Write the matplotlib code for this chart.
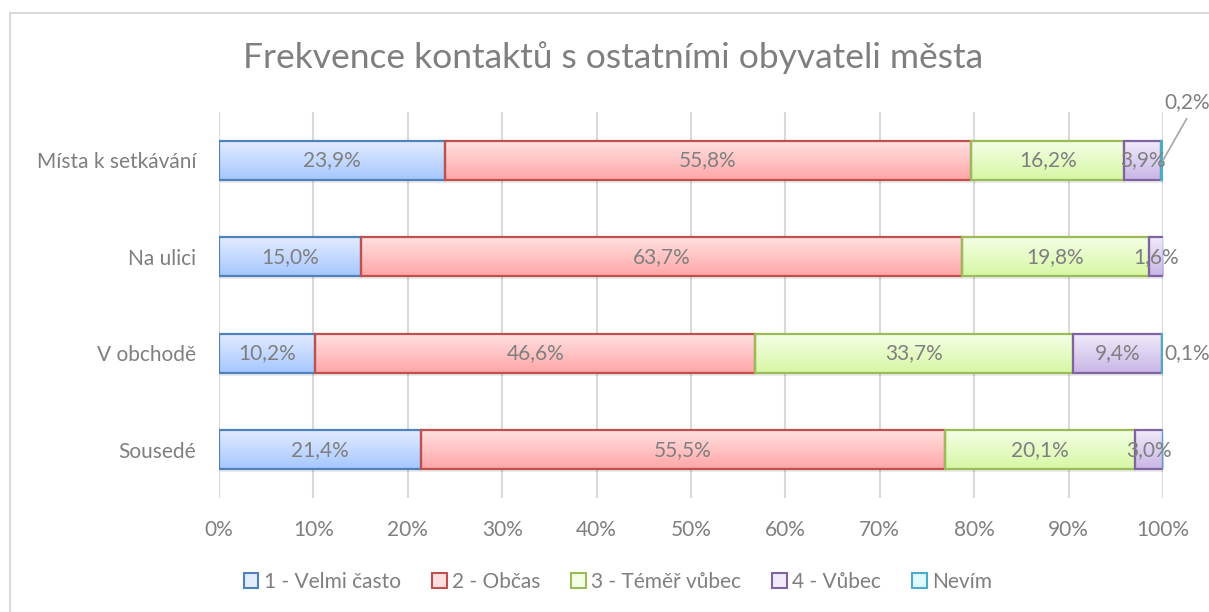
import numpy as np
import matplotlib.pyplot as plt
from matplotlib.colors import LinearSegmentedColormap
from matplotlib.patches import Patch, Rectangle

# data (percent), bottom -> top
categories = ['Sousedé', 'V obchodě', 'Na ulici', 'Místa k setkávání']
series = ['1 - Velmi často', '2 - Občas', '3 - Téměř vůbec', '4 - Vůbec', 'Nevím']
velmi_casto = [21.4, 10.2, 15.0, 23.9]
obcas = [55.5, 46.6, 63.7, 55.8]
temer_vubec = [20.1, 33.7, 19.8, 16.2]
vubec = [3.0, 9.4, 1.6, 3.9]
nevim = [0.0, 0.1, 0.0, 0.2]
values = [velmi_casto, obcas, temer_vubec, vubec, nevim]
xticks = np.arange(0, 101, 10)

# (top colour, bottom colour, edge colour)
styles = [
    ('#e2ecff', '#a6c6ff', '#4f81bd'),
    ('#ffe0e0', '#ffa6a6', '#c0504d'),
    ('#f4ffe6', '#d6f7a3', '#9bbb59'),
    ('#f0eafa', '#c8b6e6', '#8064a2'),
    ('#e0f8ff', '#9fe4f7', '#4bacc6'),
]
text_col = '#7f7f7f'
fs = 15

plt.rcParams['font.family'] = ['Lato', 'DejaVu Sans']

fig = plt.figure(figsize=(12.09, 6.12), dpi=100)
ax = fig.add_axes([219 / 1209, 1 - 498 / 612, 944 / 1209, 386 / 612])

# chart border
fig.add_artist(Rectangle((10 / 1209, -0.05), 1.2, 1 - 13 / 612 + 0.05,
                         transform=fig.transFigure, fill=False,
                         edgecolor='#d9d9d9', lw=1.5))

h = 0.4
grad = np.linspace(0, 1, 64).reshape(-1, 1)
y = np.arange(len(categories))
left = np.zeros(len(categories))
for si, vals in enumerate(values):
    top_c, bot_c, edge_c = styles[si]
    cmap = LinearSegmentedColormap.from_list('g%d' % si, [bot_c, top_c])
    for i, v in enumerate(vals):
        if v <= 0:
            continue
        x0 = left[i]
        # soft shadow
        ax.add_patch(Rectangle((x0 + 0.15, y[i] - h / 2 - 0.035), v, h,
                               facecolor='#000000', alpha=0.08, lw=0, zorder=1.5))
        ax.imshow(grad, extent=[x0, x0 + v, y[i] - h / 2, y[i] + h / 2],
                  origin='lower', aspect='auto', cmap=cmap, zorder=2)
    ax.barh(y, vals, left=left, height=h, fill=False, edgecolor=styles[si][2],
            lw=1.6, zorder=3)
    left = left + np.array(vals)

# data labels
left = np.zeros(len(categories))
for si, vals in enumerate(values):
    for i, v in enumerate(vals):
        if v <= 0:
            continue
        lbl = ('%.1f%%' % v).replace('.', ',')
        cx = left[i] + v / 2
        if si == 4:
            if categories[i] == 'V obchodě':
                ax.text(100.1, y[i], lbl, ha='left', va='center',
                        fontsize=fs, color=text_col, zorder=5)
            else:
                ax.plot([100, 102.5], [y[i], y[i] + 0.43], color='#a6a6a6', lw=1.2,
                        zorder=5, clip_on=False)
                ax.text(100.1, y[i] + 0.6, lbl, ha='left', va='center',
                        fontsize=fs, color=text_col, zorder=5, clip_on=False)
        else:
            ax.text(cx, y[i], lbl, ha='center', va='center', fontsize=fs,
                    color=text_col, zorder=5)
    left = left + np.array(vals)

ax.set_xlim(0, 100)
ax.set_ylim(-0.5, len(categories) - 0.5)
ax.set_xticks(xticks)
ax.set_xticklabels(['%d%%' % t for t in xticks])
ax.set_yticks(y)
ax.set_yticklabels(categories)
ax.tick_params(axis='both', length=0, labelsize=fs, labelcolor=text_col)
ax.tick_params(axis='x', pad=16)
ax.tick_params(axis='y', pad=16.5)
ax.grid(axis='x', color='#d9d9d9', lw=1.5, zorder=0)
ax.set_axisbelow(True)
for s in ax.spines.values():
    s.set_visible(False)

fig.text(613 / 1209, 1 - 58 / 612, 'Frekvence kontaktů s ostatními obyvateli města',
         ha='center', va='center', fontsize=25.5, color='#7f7f7f')

handles = [Patch(facecolor=st[0], edgecolor=st[2], lw=1.5) for st in styles]
fig.legend(handles, series, loc='center', bbox_to_anchor=(618 / 1209, 1 - 582 / 612),
           ncol=5, frameon=False, fontsize=fs, labelcolor=text_col,
           handlelength=0.7, handleheight=0.7, handletextpad=0.25, columnspacing=1.5)

fig.savefig('out.png', dpi=100)
